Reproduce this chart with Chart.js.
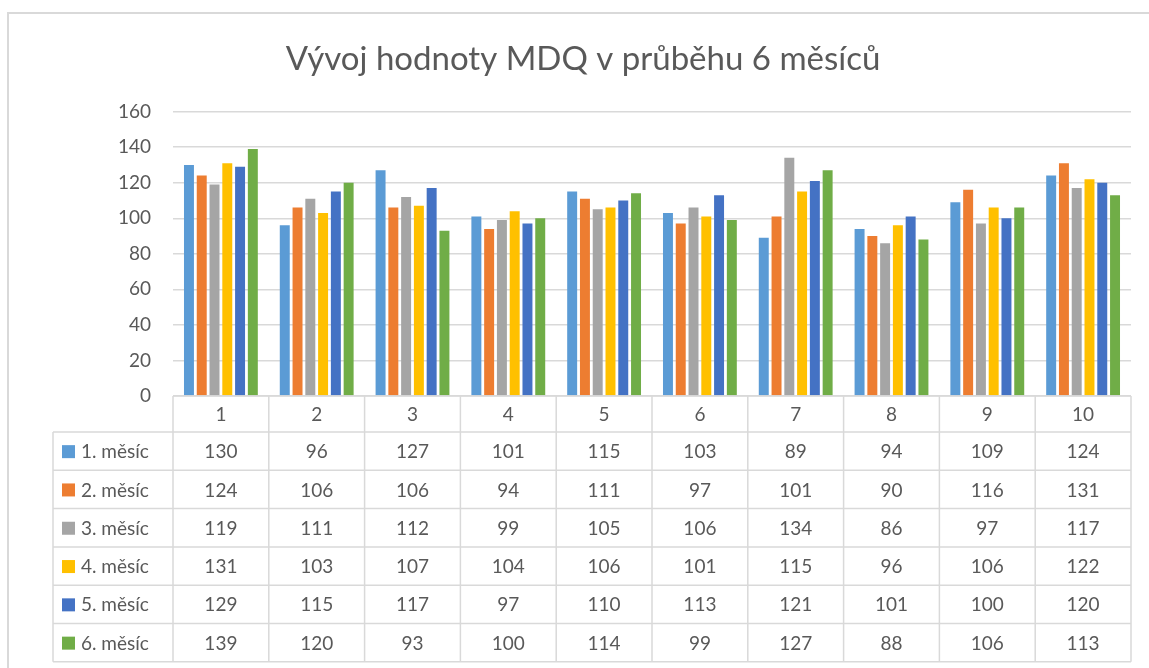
<!DOCTYPE html>
<html>
<head>
<meta charset="utf-8">
<script src="https://cdn.jsdelivr.net/npm/chart.js@4.4.1/dist/chart.umd.min.js"></script>
<style>
  html, body { margin: 0; padding: 0; background: #fff; }
  #wrap { width: 1149px; height: 668px; }
</style>
</head>
<body>
<div id="wrap"><canvas id="mdqChart" width="1149" height="668"></canvas></div>
<script>
const categories = ['1', '2', '3', '4', '5', '6', '7', '8', '9', '10'];
const seriesNames = ['1. měsíc', '2. měsíc', '3. měsíc', '4. měsíc', '5. měsíc', '6. měsíc'];
const month1 = [130, 96, 127, 101, 115, 103, 89, 94, 109, 124];
const month2 = [124, 106, 106, 94, 111, 97, 101, 90, 116, 131];
const month3 = [119, 111, 112, 99, 105, 106, 134, 86, 97, 117];
const month4 = [131, 103, 107, 104, 106, 101, 115, 96, 106, 122];
const month5 = [129, 115, 117, 97, 110, 113, 121, 101, 100, 120];
const month6 = [139, 120, 93, 100, 114, 99, 127, 88, 106, 113];
const yTicks = [0, 20, 40, 60, 80, 100, 120, 140, 160];

const colors = ['#5B9BD5', '#ED7D31', '#A5A5A5', '#FFC000', '#4472C4', '#70AD47'];
const allValues = [month1, month2, month3, month4, month5, month6];

const textColor = '#595959';
const lineColor = '#d9d9d9';
const fontFamily = 'Lato, "Open Sans", sans-serif';

// frame around the whole chart object
const framePlugin = {
  id: 'frame',
  beforeDraw(chart) {
    const ctx = chart.ctx;
    ctx.save();
    ctx.fillStyle = '#fff';
    ctx.fillRect(0, 0, chart.width, chart.height);
    ctx.strokeStyle = lineColor;
    ctx.lineWidth = 2;
    ctx.strokeRect(8, 13, chart.width + 20, chart.height + 20);
    ctx.restore();
  }
};

// data table under the plot, columns follow the x scale
const tablePlugin = {
  id: 'dataTable',
  afterDraw(chart) {
    const ctx = chart.ctx;
    const xs = chart.scales.x;
    const area = chart.chartArea;
    const n = categories.length;
    const colW = (xs.right - xs.left) / n;
    const headTop = area.bottom;
    const headBottom = 432;
    const rowH = 38.3;
    const legendLeft = 53;
    const tableBottom = headBottom + rowH * seriesNames.length;

    ctx.save();
    ctx.strokeStyle = lineColor;
    ctx.lineWidth = 1.5;

    // horizontal lines
    ctx.beginPath();
    ctx.moveTo(xs.left, headTop);
    ctx.lineTo(xs.right, headTop);
    for (let r = 0; r <= seriesNames.length; r++) {
      const y = headBottom + r * rowH;
      ctx.moveTo(legendLeft, y);
      ctx.lineTo(xs.right, y);
    }
    // vertical lines
    for (let i = 0; i <= n; i++) {
      const x = xs.left + i * colW;
      ctx.moveTo(x, headTop);
      ctx.lineTo(x, tableBottom);
    }
    ctx.moveTo(legendLeft, headBottom);
    ctx.lineTo(legendLeft, tableBottom);
    ctx.stroke();

    ctx.fillStyle = textColor;
    ctx.font = '19px ' + fontFamily;
    ctx.textAlign = 'center';
    ctx.textBaseline = 'middle';
    categories.forEach((c, i) => {
      ctx.fillText(c, xs.getPixelForValue(i), (headTop + headBottom) / 2 + 1);
    });

    chart.data.datasets.forEach((ds, r) => {
      const yMid = headBottom + r * rowH + rowH / 2 + 1;
      ctx.fillStyle = ds.backgroundColor;
      ctx.fillRect(62, yMid - 7, 13, 13);
      ctx.fillStyle = textColor;
      ctx.textAlign = 'left';
      ctx.fillText(ds.label, 81, yMid);
      ctx.textAlign = 'center';
      ds.data.forEach((v, i) => {
        ctx.fillText(String(v), xs.getPixelForValue(i), yMid);
      });
    });
    ctx.restore();
  }
};

const ctx = document.getElementById('mdqChart').getContext('2d');
const mdqChart = new Chart(ctx, {
  type: 'bar',
  data: {
    labels: categories,
    datasets: seriesNames.map((name, i) => ({
      label: name,
      data: allValues[i],
      backgroundColor: colors[i],
      categoryPercentage: 0.8,
      barPercentage: 0.78
    }))
  },
  options: {
    responsive: false,
    animation: false,
    layout: { padding: { left: 35, right: 18, top: 0, bottom: 0 } },
    plugins: {
      legend: { display: false },
      tooltip: { enabled: false },
      title: {
        display: true,
        text: 'Vývoj hodnoty MDQ v průběhu 6 měsíců',
        color: textColor,
        font: { family: fontFamily, size: 33, weight: 'normal', lineHeight: 1.2 },
        padding: { top: 40, bottom: 32 }
      }
    },
    scales: {
      x: {
        grid: { display: false },
        border: { display: false },
        ticks: { display: false },
        afterFit(scale) { scale.height = 272; }
      },
      y: {
        min: 0,
        max: 160,
        afterBuildTicks(scale) { scale.ticks = yTicks.map(v => ({ value: v })); },
        afterFit(scale) { scale.width = 138; },
        border: { display: false },
        grid: { color: lineColor, lineWidth: 1.5, drawTicks: false },
        ticks: {
          padding: 22,
          color: textColor,
          font: { family: fontFamily, size: 19 }
        }
      }
    }
  },
  plugins: [framePlugin, tablePlugin]
});
</script>
</body>
</html>
